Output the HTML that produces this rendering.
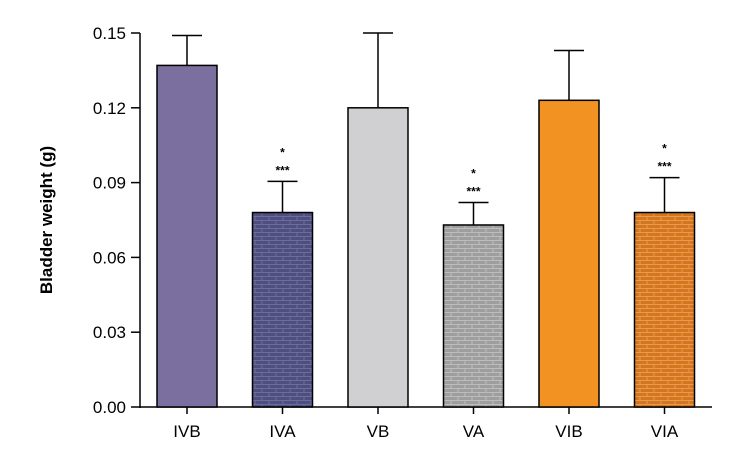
<!DOCTYPE html>
<html><head><meta charset="utf-8"><style>
body{margin:0;background:#fff;}
svg{display:block;font-family:"Liberation Sans",Arial,sans-serif;}
</style></head><body>
<svg id="chart" width="750" height="473" viewBox="0 0 750 473">
<defs>
<pattern id="brick-dark" width="14" height="8" patternUnits="userSpaceOnUse"><rect width="14" height="8" fill="#4f4e80"/><path d="M0 0.5H14M0 4.5H14M3 0V4M10 4V8" stroke="#6e6d9a" stroke-width="1" fill="none"/></pattern>
<pattern id="brick-gray" width="14" height="8" patternUnits="userSpaceOnUse"><rect width="14" height="8" fill="#9e9e9e"/><path d="M0 0.5H14M0 4.5H14M3 0V4M10 4V8" stroke="#bdbdbd" stroke-width="1" fill="none"/></pattern>
<pattern id="brick-orange" width="14" height="8" patternUnits="userSpaceOnUse"><rect width="14" height="8" fill="#d4761e"/><path d="M0 0.5H14M0 4.5H14M3 0V4M10 4V8" stroke="#e89a50" stroke-width="1" fill="none"/></pattern>
</defs>
<g id="plot"></g>
<text x="52" y="220" transform="rotate(-90 52 220)" text-anchor="middle" font-size="17" font-weight="bold">Bladder weight (g)</text>
</svg>
<script>
const categories=["IVB","IVA","VB","VA","VIB","VIA"];
const values=[0.137,0.078,0.120,0.073,0.123,0.078];
const errors=[0.149,0.0905,0.150,0.082,0.143,0.092];
const sigFlags=[false,true,false,true,false,true];
const yTicks=[0,0.03,0.06,0.09,0.12,0.15];
const yTickLabels=["0.00","0.03","0.06","0.09","0.12","0.15"];
const fills=["#7b6fa0","url(#brick-dark)","#d0cfd1","url(#brick-gray)","#f29222","url(#brick-orange)"];
const NS="http://www.w3.org/2000/svg";
const g=document.getElementById('plot');
const y=v=>407-v*(374/0.15);
const xc=i=>187+i*95.5;
const bw=60;
function mk(t,a){const e=document.createElementNS(NS,t);for(const k in a)e.setAttribute(k,a[k]);g.appendChild(e);return e;}
let ax=mk('line',{x1:140,y1:y(0.15),x2:140,y2:408,stroke:'#000','stroke-width':1.5});


let bx=mk('line',{x1:140,y1:407,x2:712,y2:407,stroke:'#000','stroke-width':1.5});


yTicks.forEach((t,i)=>{
 let l=mk('line',{x1:131,x2:140,y1:y(t),y2:y(t),stroke:'#000','stroke-width':1.5});
 
 
 let tx=mk('text',{x:126,y:y(t)+6,'text-anchor':'end','font-size':17});
 tx.textContent=yTickLabels[i];
 
 
});
categories.forEach((c,i)=>{
 const cx=xc(i);
 let e1=mk('line',{x1:cx,x2:cx,y1:y(errors[i]),y2:y(values[i]),stroke:'#000','stroke-width':1.5});
 
 
 let e2=mk('line',{x1:cx-15,x2:cx+15,y1:y(errors[i]),y2:y(errors[i]),stroke:'#000','stroke-width':1.5});
 
 
 let r=mk('rect',{x:cx-bw/2,y:y(values[i]),width:bw,height:y(0)-y(values[i]),fill:fills[i],stroke:'#000','stroke-width':1.5});
 
 
 let tk=mk('line',{x1:cx,x2:cx,y1:407,y2:414,stroke:'#000','stroke-width':1.5});
 
 
 let lb=mk('text',{x:cx,y:437,'text-anchor':'middle','font-size':17});
 lb.textContent=c;
 
 
 if(sigFlags[i]){
  let s1=mk('text',{x:cx,y:y(errors[i])-7,'text-anchor':'middle','font-size':12,'font-weight':'bold'});
  s1.textContent='***';
  
  
  let s2=mk('text',{x:cx,y:y(errors[i])-25,'text-anchor':'middle','font-size':12,'font-weight':'bold'});
  s2.textContent='*';
  
  
 }
});
</script>
</body></html>
